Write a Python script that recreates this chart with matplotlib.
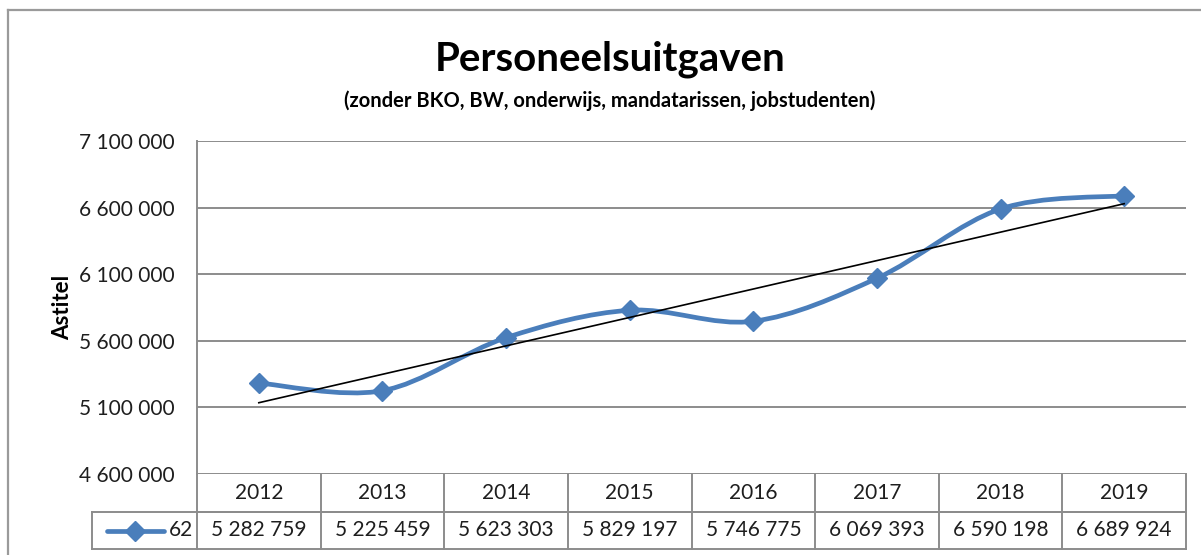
import matplotlib.pyplot as plt
from matplotlib.path import Path
from matplotlib.patches import PathPatch
from matplotlib.lines import Line2D
import numpy as np

plt.rcParams['font.family'] = ['Lato', 'DejaVu Sans']

years = ['2012', '2013', '2014', '2015', '2016', '2017', '2018', '2019']
values = [5282759, 5225459, 5623303, 5829197, 5746775, 6069393, 6590198, 6689924]
series_name = '62'
yticks = [4600000, 5100000, 5600000, 6100000, 6600000, 7100000]

blue = '#4A7EBB'
grid_c = '#8C8C8C'
txt_c = '#1E1E1E'


def fmt(v):
    return '{:,}'.format(v).replace(',', ' ')


W, H = 1201, 555
fig = plt.figure(figsize=(W / 100, H / 100), dpi=100)

# outer chart frame
fig.add_artist(Line2D([8 / W, 8 / W], [0, 1 - 10 / H], color='#9A9A9A', lw=1.6))
fig.add_artist(Line2D([8 / W, 1], [1 - 10 / H, 1 - 10 / H], color='#9A9A9A', lw=1.6))

left, right, top, bottom = 197, 1186, 141, 474
ax = fig.add_axes([left / W, 1 - bottom / H, (right - left) / W, (bottom - top) / H])

x = np.arange(len(values))
y = np.array(values, dtype=float)

# excel-like smoothed line (catmull-rom bezier)
px = np.concatenate([[x[0]], x, [x[-1]]])
py = np.concatenate([[y[0]], y, [y[-1]]])
verts = [(x[0], y[0])]
codes = [Path.MOVETO]
for i in range(len(x) - 1):
    p0 = np.array([px[i], py[i]])
    p1 = np.array([px[i + 1], py[i + 1]])
    p2 = np.array([px[i + 2], py[i + 2]])
    p3 = np.array([px[i + 3], py[i + 3]])
    c1 = p1 + (p2 - p0) / 6
    c2 = p2 - (p3 - p1) / 6
    verts += [tuple(c1), tuple(c2), tuple(p2)]
    codes += [Path.CURVE4] * 3
ax.add_patch(PathPatch(Path(verts, codes), facecolor='none', edgecolor=blue,
                       lw=3.4, capstyle='round', joinstyle='round', zorder=3))
ax.plot(x, y, linestyle='none', marker='D', markersize=10.5, color=blue, zorder=4)

# linear trendline
k, b = np.polyfit(x, y, 1)
ax.plot(x, k * x + b, color='black', lw=1.2, zorder=5)

ax.set_xlim(-0.5, len(values) - 0.5)
ax.set_ylim(yticks[0], yticks[-1])
ax.set_yticks(yticks)
ax.set_yticklabels([fmt(v) for v in yticks], fontsize=15, color=txt_c)
ax.set_xticks([])
ax.tick_params(axis='y', length=0, pad=16)
for v in yticks:
    ax.axhline(v, color=grid_c, lw=1.4, zorder=1)
for s in ['top', 'right', 'bottom']:
    ax.spines[s].set_visible(False)
ax.spines['left'].set_color(grid_c)
ax.spines['left'].set_linewidth(1.4)
ax.set_ylabel('Astitel', fontsize=16, fontweight='bold', labelpad=4)

# data table below the plot
ph = bottom - top
r1 = -(512 - bottom) / ph
r2 = -(549 - bottom) / ph
xl = (92 - left) / ((right - left) / len(values)) - 0.5
tbl = ax.get_xaxis_transform()
n = len(values)
lk = dict(color=grid_c, lw=1.4, clip_on=False, transform=tbl)
ax.plot([-0.5, n - 0.5], [r1, r1], **lk)
ax.plot([xl, n - 0.5], [r1, r1], **lk)
ax.plot([xl, n - 0.5], [r2, r2], **lk)
ax.plot([xl, xl], [r1, r2], **lk)
ax.plot([-0.5, -0.5], [0, r2], **lk)
for i in range(n):
    ax.plot([i + 0.5, i + 0.5], [0, r2], **lk)
    ax.text(i, r1 / 2, years[i], transform=tbl, ha='center', va='center',
            fontsize=15, color=txt_c)
    ax.text(i, (r1 + r2) / 2, fmt(values[i]), transform=tbl, ha='center', va='center',
            fontsize=15, color=txt_c)

# legend key inside the table
lx0 = xl + 0.12
lx1 = xl + 0.58
ym = (r1 + r2) / 2
ax.plot([lx0, lx1], [ym, ym], color=blue, lw=3.4, clip_on=False, transform=tbl,
        solid_capstyle='round')
ax.plot([(lx0 + lx1) / 2], [ym], marker='D', markersize=10.5, color=blue,
        clip_on=False, transform=tbl)
ax.text(-0.53, ym, series_name, transform=tbl, ha='right', va='center',
        fontsize=15, color=txt_c)

fig.text(610 / W, 1 - 59 / H, 'Personeelsuitgaven', ha='center', va='center',
         fontsize=29, fontweight='bold')
fig.text(610 / W, 1 - 101 / H, '(zonder BKO, BW, onderwijs, mandatarissen, jobstudenten)',
         ha='center', va='center', fontsize=14.5, fontweight='bold')

fig.savefig('out.png', dpi=100)
